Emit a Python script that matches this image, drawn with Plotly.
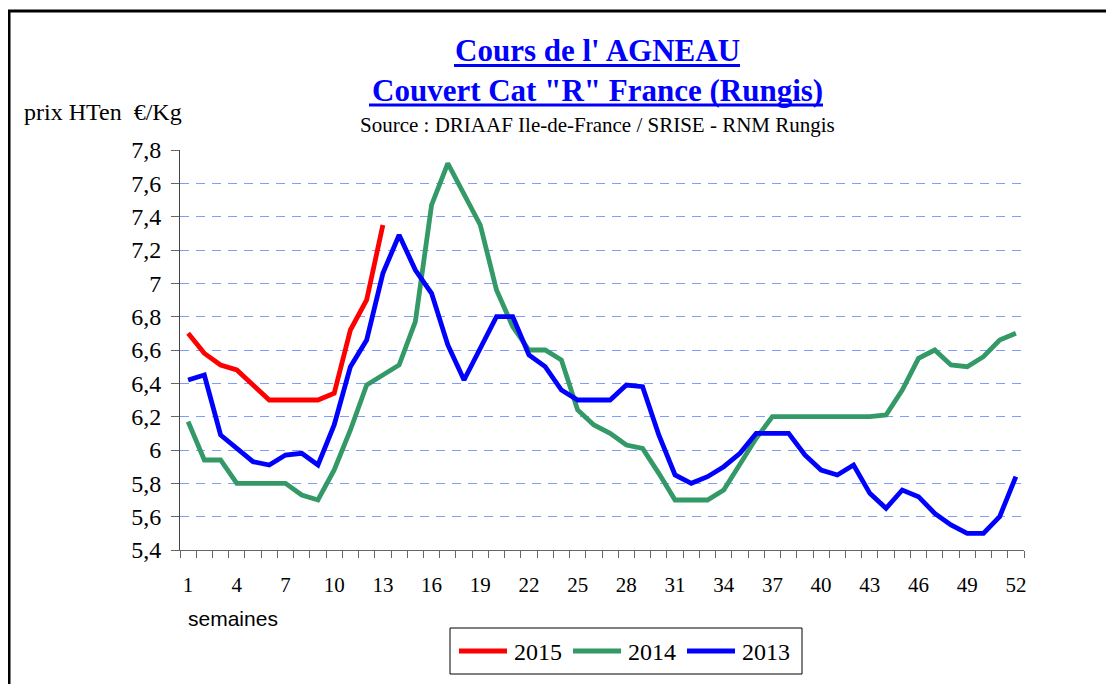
import plotly.graph_objects as go

weeks = list(range(1, 53))

prix_2015 = [6.70, 6.58, 6.51, 6.48, 6.39, 6.30, 6.30, 6.30, 6.30, 6.34, 6.72, 6.90, 7.35]

prix_2014 = [6.17, 5.94, 5.94, 5.80, 5.80, 5.80, 5.80, 5.73, 5.70, 5.88,
             6.12, 6.39, 6.45, 6.51, 6.77, 7.47, 7.72, 7.54, 7.35, 6.96,
             6.74, 6.60, 6.60, 6.54, 6.24, 6.15, 6.10, 6.03, 6.01, 5.86,
             5.70, 5.70, 5.70, 5.76, 5.91, 6.07, 6.20, 6.20, 6.20, 6.20,
             6.20, 6.20, 6.20, 6.21, 6.36, 6.55, 6.60, 6.51, 6.50, 6.56,
             6.66, 6.70]

prix_2013 = [6.42, 6.45, 6.09, 6.01, 5.93, 5.91, 5.97, 5.98, 5.91, 6.15,
             6.50, 6.66, 7.06, 7.29, 7.08, 6.94, 6.63, 6.42, 6.61, 6.80,
             6.80, 6.57, 6.50, 6.36, 6.30, 6.30, 6.30, 6.39, 6.38, 6.09,
             5.85, 5.80, 5.84, 5.90, 5.98, 6.10, 6.10, 6.10, 5.97, 5.88,
             5.85, 5.91, 5.74, 5.65, 5.76, 5.72, 5.62, 5.55, 5.50, 5.50,
             5.60, 5.84]

x_tick_vals = list(range(1, 53, 3))
y_tick_vals = [5.4, 5.6, 5.8, 6.0, 6.2, 6.4, 6.6, 6.8, 7.0, 7.2, 7.4, 7.6, 7.8]
y_tick_text = ["5,4", "5,6", "5,8", "6", "6,2", "6,4", "6,6", "6,8", "7", "7,2", "7,4", "7,6", "7,8"]

series = [
    ("2015", prix_2015, "#ff0000"),
    ("2014", prix_2014, "#339966"),
    ("2013", prix_2013, "#0000ff"),
]

SERIF = "Liberation Serif, Times New Roman, serif"

# page body has an 8px margin, so the figure is a bit smaller than the window
PW, PH = 844, 400          # plot area in px
ML, MT = 172, 142


def px_x(p):
    return (p - 180) / PW


def px_y(p):
    return (550 - p) / PH


fig = go.Figure()
for name, values, color in series:
    fig.add_trace(go.Scatter(x=weeks[:len(values)], y=values, name=name, mode="lines",
                             line=dict(color=color, width=4.8), showlegend=False))

fig.update_layout(
    width=ML + PW + 90, height=MT + PH + 134,
    margin=dict(l=ML, r=90, t=MT, b=134),
    paper_bgcolor="white", plot_bgcolor="white",
    font=dict(family=SERIF, color="black"),
)

fig.update_xaxes(
    range=[0.5, 52.5], tickmode="array", tickvals=x_tick_vals, ticks="",
    showline=True, linecolor="#666", linewidth=1, showgrid=False, zeroline=False,
    tickfont=dict(family=SERIF, size=21), ticklabelstandoff=16,
    minor=dict(tickmode="linear", tick0=0.5, dtick=1, ticks="outside", ticklen=7,
               tickcolor="#666", showgrid=False),
)

fig.update_yaxes(
    range=[5.4, 7.8], tickmode="array", tickvals=y_tick_vals, ticktext=y_tick_text,
    ticks="outside", ticklen=8, tickcolor="#666",
    showline=True, linecolor="#444", linewidth=1, zeroline=False,
    showgrid=True, gridcolor="#7f9cff", gridwidth=1, griddash="9px,7px",
    tickfont=dict(family=SERIF, size=24), ticklabelstandoff=5,
)

# title lines: text, centre, underline extent
titles = [
    ("<b>Cours de l' AGNEAU</b>", 50, 454, 740, 65.5),
    ("<b>Couvert Cat \"R\" France (Rungis)</b>", 90, 369, 823, 105),
]
for text, yc, ux0, ux1, uy in titles:
    fig.add_annotation(text=text, x=px_x(597), y=px_y(yc), xref="paper", yref="paper",
                       xanchor="center", yanchor="middle", showarrow=False,
                       font=dict(family=SERIF, size=31, color="#0000ff"))
    fig.add_shape(type="line", xref="paper", yref="paper", x0=px_x(ux0), x1=px_x(ux1),
                  y0=px_y(uy), y1=px_y(uy), line=dict(color="#0000ff", width=3))

fig.add_annotation(text="Source : DRIAAF Ile-de-France / SRISE - RNM Rungis", x=px_x(597), y=px_y(125),
                   xref="paper", yref="paper", xanchor="center", yanchor="middle", showarrow=False,
                   font=dict(family=SERIF, size=21))

fig.add_annotation(text="prix HTen \u00a0€/Kg", x=px_x(22), y=px_y(112), xref="paper", yref="paper",
                   xanchor="left", yanchor="middle", showarrow=False,
                   font=dict(family=SERIF, size=24))
fig.add_annotation(text="semaines", x=px_x(233), y=px_y(618), xref="paper", yref="paper",
                   xanchor="center", yanchor="middle", showarrow=False,
                   font=dict(family="Liberation Sans, Arial, sans-serif", size=21))

# legend drawn by hand: box, line samples and labels
fig.add_shape(type="rect", xref="paper", yref="paper", x0=px_x(450), x1=px_x(802),
              y0=px_y(674), y1=px_y(628), line=dict(color="black", width=1), fillcolor="white")
for i, (name, values, color) in enumerate(series):
    x0 = 459 + i * 114
    fig.add_shape(type="line", xref="paper", yref="paper", x0=px_x(x0), x1=px_x(x0 + 48),
                  y0=px_y(651), y1=px_y(651), line=dict(color=color, width=5))
    fig.add_annotation(text=name, x=px_x(x0 + 53), y=px_y(652), xref="paper", yref="paper",
                       xanchor="left", yanchor="middle", showarrow=False,
                       font=dict(family=SERIF, size=24))

# outer frame (left and top edges visible)
fig.add_shape(type="rect", xref="paper", yref="paper", x0=px_x(9), x1=px_x(1130),
              y0=px_y(700), y1=px_y(11), line=dict(color="black", width=3))

fig.write_html("out.html")
